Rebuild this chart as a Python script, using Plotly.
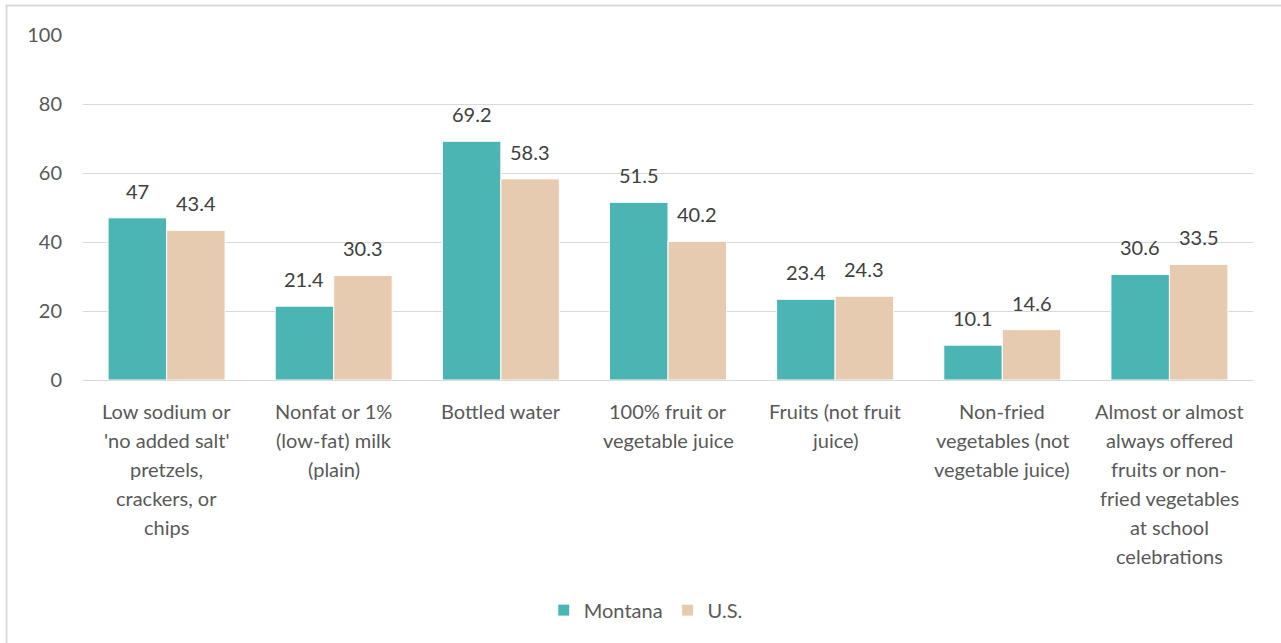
import plotly.graph_objects as go

categories = [
    "Low sodium or<br>'no added salt'<br>pretzels,<br>crackers, or<br>chips",
    "Nonfat or 1%<br>(low-fat) milk<br>(plain)",
    "Bottled water",
    "100% fruit or<br>vegetable juice",
    "Fruits (not fruit<br>juice)",
    "Non-fried<br>vegetables (not<br>vegetable juice)",
    "Almost or almost<br>always offered<br>fruits or non-<br>fried vegetables<br>at school<br>celebrations",
]
montana = [47, 21.4, 69.2, 51.5, 23.4, 10.1, 30.6]
us = [43.4, 30.3, 58.3, 40.2, 24.3, 14.6, 33.5]

FONT = "Lato"
TXT = "#595959"
LBL = "#404040"
FS = 20

W, H = 1281, 643
ML, MR, MT, MB = 83, 28, 35, 263
BARGAP = 0.3

fig = go.Figure()
fig.add_trace(go.Bar(
    x=categories, y=montana, name="Montana",
    marker=dict(color="#4BB5B4", line=dict(color="white", width=1)),
))
fig.add_trace(go.Bar(
    x=categories, y=us, name="U.S.",
    marker=dict(color="#E6CBB0", line=dict(color="white", width=1)),
))

# category width in px -> bar centre offsets
cat_w = (W - ML - MR) / len(categories)
bar_w = cat_w * (1 - BARGAP) / 2

annotations = []
for cat in categories:
    for j, line in enumerate(cat.split("<br>")):
        annotations.append(dict(
            x=cat, y=0, xref="x", yref="y", text=line, showarrow=False,
            yanchor="middle", xanchor="center", yshift=-(31 + 29 * j),
            font=dict(family=FONT, size=FS, color=TXT),
        ))
for series, sign in ((montana, -1), (us, 1)):
    for cat, v in zip(categories, series):
        annotations.append(dict(
            x=cat, y=v, xref="x", yref="y", text=f"{v:g}", showarrow=False,
            xanchor="center", yanchor="middle", xshift=sign * bar_w / 2, yshift=27,
            font=dict(family=FONT, size=FS, color=LBL),
        ))

fig.update_layout(
    width=W, height=H,
    margin=dict(l=ML, r=MR, t=MT, b=MB),
    paper_bgcolor="white", plot_bgcolor="white",
    barmode="group", bargap=BARGAP, bargroupgap=0.0,
    font=dict(family=FONT, size=FS, color=TXT),
    showlegend=True,
    legend=dict(orientation="h", x=0.481, xanchor="center", y=-0.667, yanchor="middle",
                font=dict(family=FONT, size=FS, color=TXT), itemwidth=30),
    annotations=annotations,
    shapes=[dict(type="rect", xref="paper", yref="paper",
                 x0=-0.0654, x1=1.05, y0=-1.0, y1=1.0855,
                 line=dict(color="#D9D9D9", width=2), fillcolor="rgba(0,0,0,0)", layer="below")],
)
fig.update_xaxes(showticklabels=False, ticks="", showline=True, linecolor="#D9D9D9",
                 linewidth=1, showgrid=False)
fig.update_yaxes(range=[0, 100], dtick=20, showgrid=True, gridcolor="#D9D9D9", gridwidth=1,
                 zeroline=False, ticks="", ticklabelstandoff=20,
                 tickfont=dict(family=FONT, size=FS, color=TXT))

fig.write_html("out.html", config={"displayModeBar": False},
               post_script="document.body.style.margin='0';")
